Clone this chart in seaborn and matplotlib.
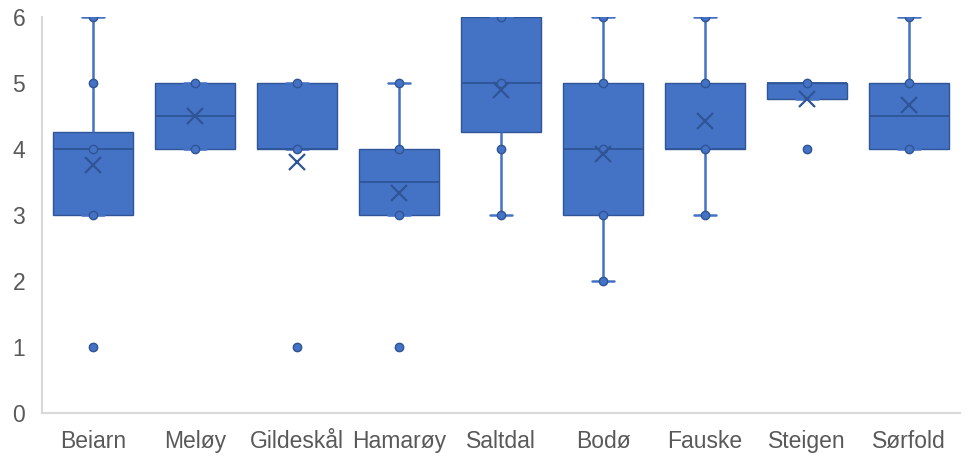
import pandas as pd
import numpy as np
import matplotlib
matplotlib.use('Agg')
import matplotlib.pyplot as plt
import seaborn as sns

# categories and the raw scores per municipality (estimated from the box shapes)
kommuner = ['Beiarn', 'Meløy', 'Gildeskål', 'Hamarøy', 'Saltdal', 'Bodø', 'Fauske', 'Steigen', 'Sørfold']
beiarn = [1, 3, 3, 3, 3, 4, 4, 4, 4, 5, 5, 6]
meloy = [4, 4, 5, 5]
gildeskal = [1, 4, 4, 5, 5]
hamaroy = [1, 3, 3, 4, 4, 5]
saltdal = [3, 3, 4, 5, 5, 5, 6, 6, 6, 6]
bodo = [2, 3, 3, 3, 3, 3, 4, 4, 4, 5, 5, 5, 5, 6]
fauske = [3, 4, 4, 4, 5, 5, 6]
steigen = [4, 5, 5, 5]
sorfold = [4, 4, 4, 5, 5, 6]
y_ticks = [0, 1, 2, 3, 4, 5, 6]

groups = [beiarn, meloy, gildeskal, hamaroy, saltdal, bodo, fauske, steigen, sorfold]
df = pd.DataFrame({
    'Kommune': np.repeat(kommuner, [len(g) for g in groups]),
    'Score': np.concatenate(groups),
})

blue = '#4472C4'
dark = '#2F5597'

sns.set_style('white')
plt.rcParams['font.family'] = ['Liberation Sans', 'DejaVu Sans']

fig = plt.figure(figsize=(9.7, 4.59), dpi=100)
ax = fig.add_axes([0.0433, 0.1002, 0.9464, 0.8628])

sns.boxplot(data=df, x='Kommune', y='Score', order=kommuner, ax=ax,
            width=0.78, whis=1.5, fill=True, color=blue,
            boxprops=dict(facecolor=blue, edgecolor=dark, linewidth=1.0),
            medianprops=dict(color=dark, linewidth=1.3),
            whiskerprops=dict(color=blue, linewidth=1.8),
            capprops=dict(color=blue, linewidth=1.8),
            flierprops=dict(marker='o', markerfacecolor=blue, markeredgecolor=blue,
                            markersize=5.5),
            showmeans=True,
            meanprops=dict(marker='x', markeredgecolor=dark, markersize=11,
                           markeredgewidth=1.6, zorder=5),
            capwidths=0.22)

# inner points
sns.stripplot(data=df.drop_duplicates(), x='Kommune', y='Score', order=kommuner,
              jitter=False, color=blue, edgecolor=dark, linewidth=1.0, size=6,
              ax=ax, zorder=4)

ax.set_ylim(0, 6)
ax.set_xlim(-0.5, len(kommuner) - 0.5)
ax.set_yticks(y_ticks)
ax.set_xlabel('')
ax.set_ylabel('')
for s in ['top', 'right']:
    ax.spines[s].set_visible(False)
for s in ['left', 'bottom']:
    ax.spines[s].set_color('#D9D9D9')
    ax.spines[s].set_linewidth(1.5)
ax.tick_params(axis='both', length=0, labelsize=16.5, labelcolor='#595959')
ax.tick_params(axis='x', pad=12)
ax.tick_params(axis='y', pad=12)

fig.savefig('out.png', dpi=100)
